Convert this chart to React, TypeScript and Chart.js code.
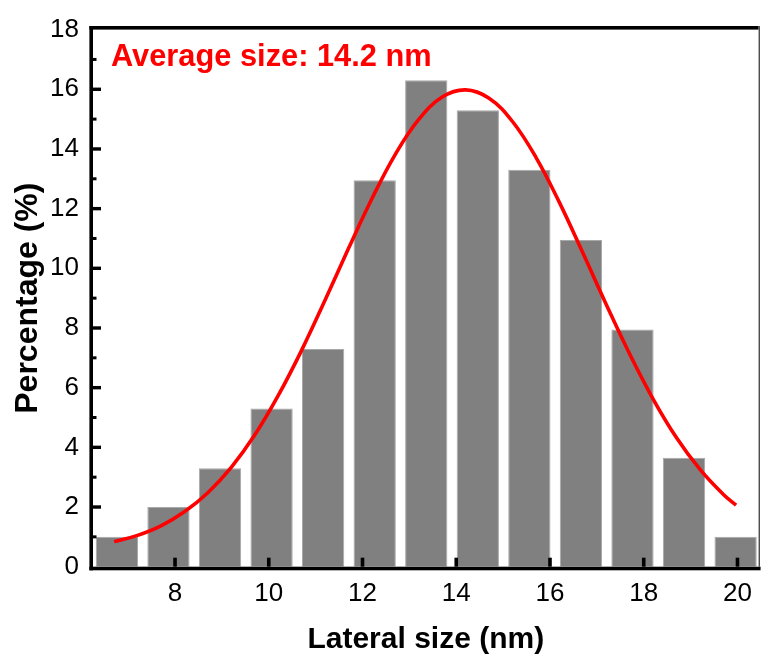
import React, { useEffect, useRef } from "react";
import { Chart, registerables } from "chart.js";

Chart.register(...registerables);

// Histogram bin centres (nm) and percentages
const binCenters = [6.76, 7.86, 8.96, 10.06, 11.16, 12.26, 13.36, 14.46, 15.56, 16.66, 17.76, 18.86, 19.96];
const percentages = [1.0, 2.0, 3.3, 5.3, 7.3, 12.95, 16.3, 15.3, 13.3, 10.95, 7.95, 3.65, 1.0];

// Fitted curve
const fitX = [6.7, 7.2, 7.7, 8.2, 8.7, 9.2, 9.7, 10.2, 10.7, 11.2, 11.7, 12.2, 12.7, 13.2, 13.7, 14.2, 14.7, 15.2, 15.7, 16.2, 16.7, 17.2, 17.7, 18.2, 18.7, 19.2, 19.7, 19.97];
const fitY = [0.84, 1.05, 1.37, 1.84, 2.48, 3.33, 4.41, 5.73, 7.25, 8.93, 10.66, 12.33, 13.82, 14.99, 15.74, 15.98, 15.7, 14.92, 13.72, 12.21, 10.52, 8.79, 7.13, 5.62, 4.32, 3.26, 2.42, 2.06];

const xTicks = [8, 10, 12, 14, 16, 18, 20];
const yMinorTicks = [1, 3, 5, 7, 9, 11, 13, 15, 17];
const annotationText = "Average size: 14.2 nm";
const xTitle = "Lateral size (nm)";
const yTitle = "Percentage (%)";

const FONT = "'Liberation Sans', Arial, sans-serif";

const framePlugin = {
  id: "frame",
  afterDatasetsDraw(chart: any) {
    const { ctx, chartArea: a, scales } = chart;
    const xs = scales.x;
    const ys = scales.y;
    const lw = 3.6;
    ctx.save();
    ctx.fillStyle = "#000";
    // left, top, bottom thick lines
    ctx.fillRect(a.left - lw, a.top - lw, lw, a.bottom - a.top + 2 * lw);
    ctx.fillRect(a.left - lw, a.top - lw, a.right - a.left + lw, lw);
    ctx.fillRect(a.left - lw, a.bottom, a.right - a.left + lw + 2, lw);
    // right thin line
    ctx.fillStyle = "#4a4a4a";
    ctx.fillRect(a.right, a.top - lw, 1.4, a.bottom - a.top + lw);
    ctx.fillStyle = "#000";
    // y major ticks
    for (const v of ys.ticks.map((t: any) => t.value)) {
      const y = ys.getPixelForValue(v);
      if (v === 0 || v === 18) continue;
      ctx.fillRect(a.left, y - 1.7, 8, 3.4);
    }
    for (const v of yMinorTicks) {
      const y = ys.getPixelForValue(v);
      ctx.fillRect(a.left, y - 1.5, 3.5, 3);
    }
    for (const v of xTicks) {
      const x = xs.getPixelForValue(v);
      ctx.fillRect(x - 1.8, a.bottom - 9, 3.6, 9);
    }
    // annotation
    ctx.fillStyle = "#ff0000";
    ctx.font = `bold 30.8px ${FONT}`;
    ctx.textAlign = "left";
    ctx.textBaseline = "alphabetic";
    ctx.fillText(annotationText, a.left + 18, a.top + 36.6);
    ctx.restore();
  },
};

export default function App() {
  const ref = useRef<HTMLCanvasElement | null>(null);
  useEffect(() => {
    if (!ref.current) return;
    const chart = new Chart(ref.current, {
      type: "bar",
      data: {
        datasets: [
          {
            type: "line",
            data: fitX.map((x, i) => ({ x, y: fitY[i] })),
            borderColor: "#ff0000",
            borderWidth: 3.6,
            pointRadius: 0,
            tension: 0.4,
            fill: false,
            order: 0,
          } as any,
          {
            type: "bar",
            data: binCenters.map((x, i) => ({ x, y: percentages[i] })),
            backgroundColor: "#808080",
            borderColor: "#a8a8a8",
            borderWidth: 1,
            barPercentage: 0.82,
            categoryPercentage: 1,
            order: 1,
          } as any,
        ],
      },
      options: {
        animation: false,
        responsive: false,
        maintainAspectRatio: false,
        layout: { padding: { top: 26.7, right: 2, left: 0, bottom: 0 } },
        plugins: { legend: { display: false }, tooltip: { enabled: false } },
        scales: {
          x: {
            type: "linear",
            min: 6.25,
            max: 20.45,
            offset: false,
            grid: { display: false, drawTicks: false },
            border: { display: false },
            afterBuildTicks: (s: any) => {
              s.ticks = xTicks.map((v) => ({ value: v }));
            },
            afterFit: (s: any) => {
              s.height = 93.3;
            },
            ticks: {
              color: "#000",
              padding: 12,
              maxRotation: 0,
              autoSkip: false,
              font: { family: FONT, size: 26 },
            },
            title: {
              display: true,
              text: xTitle,
              color: "#000",
              font: { family: FONT, size: 30, weight: "bold" },
              padding: { top: 0, bottom: 2 },
            },
          },
          y: {
            type: "linear",
            min: 0,
            max: 18,
            grid: { display: false, drawTicks: false },
            border: { display: false },
            afterFit: (s: any) => {
              s.width = 93;
            },
            ticks: {
              stepSize: 2,
              color: "#000",
              padding: 14,
              font: { family: FONT, size: 26 },
            },
            title: {
              display: true,
              text: yTitle,
              color: "#000",
              font: { family: FONT, size: 32, weight: "bold" },
              padding: { top: 9, bottom: 0 },
            },
          },
        },
      },
      plugins: [framePlugin],
    });
    return () => chart.destroy();
  }, []);
  return (
    <div style={{ position: "fixed", left: 0, top: 0, width: 764, height: 660, background: "#fff" }}>
      <canvas ref={ref} width={764} height={660} style={{ width: 764, height: 660 }} />
    </div>
  );
}
